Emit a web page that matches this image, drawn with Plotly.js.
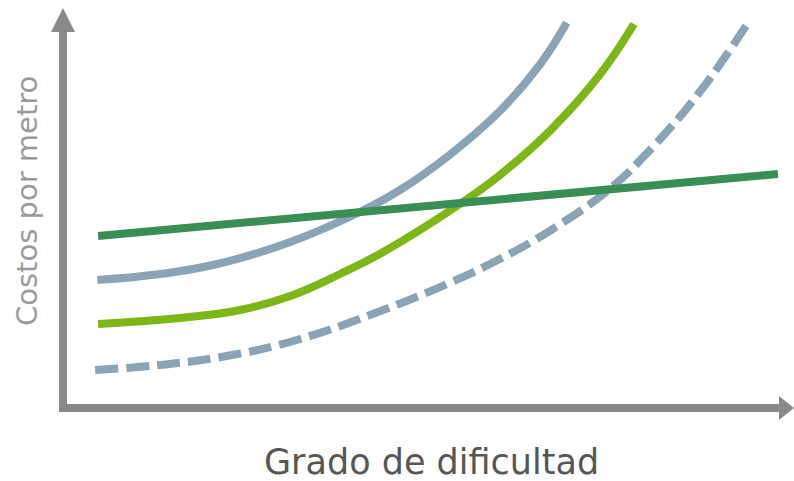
<!DOCTYPE html>
<html>
<head>
<meta charset="utf-8">
<script src="https://cdn.plot.ly/plotly-3.0.1.min.js"></script>
<style>
  html, body { margin: 0; padding: 0; background: #ffffff; }
  #chart { width: 794px; height: 481px; }
</style>
</head>
<body>
<div id="chart"></div>
<script>
// Difficulty (x) and cost per metre (y) for each curve, in chart units (0-10)
const flatX = [0.48, 9.78];
const flatY = [4.30, 5.85];

const grayX = [0.47, 1.33, 2.11, 3.11, 4.06, 4.61, 5.29, 5.98, 6.53, 6.89];
const grayY = [3.20, 3.35, 3.60, 4.15, 4.90, 5.45, 6.33, 7.43, 8.60, 9.63];

const greenX = [0.48, 1.60, 2.42, 3.11, 3.79, 4.38, 5.47, 5.98, 6.66, 7.35, 7.81];
const greenY = [2.10, 2.25, 2.45, 2.80, 3.35, 3.90, 5.15, 5.83, 6.93, 8.35, 9.60];

const dashX = [0.44, 1.46, 2.33, 3.20, 4.38, 5.29, 5.98, 6.66, 7.48, 8.03, 8.71, 9.36];
const dashY = [0.95, 1.10, 1.33, 1.70, 2.45, 3.13, 3.73, 4.43, 5.48, 6.45, 7.90, 9.60];

const xTitle = 'Grado de dificultad';
const yTitle = 'Costos por metro';

// Plot area geometry (pixels)
const W = 794, H = 481;
const M = { l: 63, r: 0, t: 8, b: 73 };
const plotW = W - M.l - M.r, plotH = H - M.t - M.b;
const px = x => (x - M.l) / plotW;          // pixel -> paper x
const py = y => (H - M.b - y) / plotH;      // pixel -> paper y

const axisGray = '#898989';
const lineW = 8;

function curve(x, y, color, dash) {
  return {
    x: x, y: y, type: 'scatter', mode: 'lines',
    line: { color: color, width: lineW, shape: 'spline', smoothing: 1.2, dash: dash || 'solid' },
    hoverinfo: 'skip', showlegend: false
  };
}

const traces = [
  curve(dashX, dashY, '#8aa3b5', '23px,8px'),
  curve(grayX, grayY, '#8aa3b5'),
  curve(greenX, greenY, '#7db616'),
  curve(flatX, flatY, '#3a8d55')
];

const shapes = [
  // vertical axis bar
  { type: 'line', xref: 'paper', yref: 'paper', x0: px(63), x1: px(63), y0: py(412), y1: py(30),
    line: { color: axisGray, width: 8 } },
  // horizontal axis bar
  { type: 'line', xref: 'paper', yref: 'paper', x0: px(59), x1: px(781), y0: py(408), y1: py(408),
    line: { color: axisGray, width: 8 } },
  // arrow heads
  { type: 'path', xref: 'paper', yref: 'paper',
    path: `M ${px(51)} ${py(32)} L ${px(63)} ${py(8)} L ${px(75)} ${py(32)} Z`,
    fillcolor: axisGray, line: { width: 0 } },
  { type: 'path', xref: 'paper', yref: 'paper',
    path: `M ${px(779)} ${py(396)} L ${px(794)} ${py(408)} L ${px(779)} ${py(420)} Z`,
    fillcolor: axisGray, line: { width: 0 } }
];

const annotations = [
  { text: xTitle, xref: 'paper', yref: 'paper', x: px(431), y: py(462),
    xanchor: 'center', yanchor: 'middle', showarrow: false,
    font: { family: 'DejaVu Sans, sans-serif', size: 35, color: '#565656' } },
  { text: yTitle, xref: 'paper', yref: 'paper', x: px(27), y: py(201),
    xanchor: 'center', yanchor: 'middle', showarrow: false, textangle: -90,
    font: { family: 'DejaVu Sans, sans-serif', size: 29, color: '#9a9a9a' } }
];

const layout = {
  width: W, height: H,
  margin: M,
  paper_bgcolor: '#ffffff', plot_bgcolor: '#ffffff',
  xaxis: { range: [0, 10], visible: false, fixedrange: true },
  yaxis: { range: [0, 10], visible: false, fixedrange: true },
  shapes: shapes,
  annotations: annotations,
  showlegend: false
};

Plotly.newPlot('chart', traces, layout, { displayModeBar: false, staticPlot: true });
</script>
</body>
</html>
